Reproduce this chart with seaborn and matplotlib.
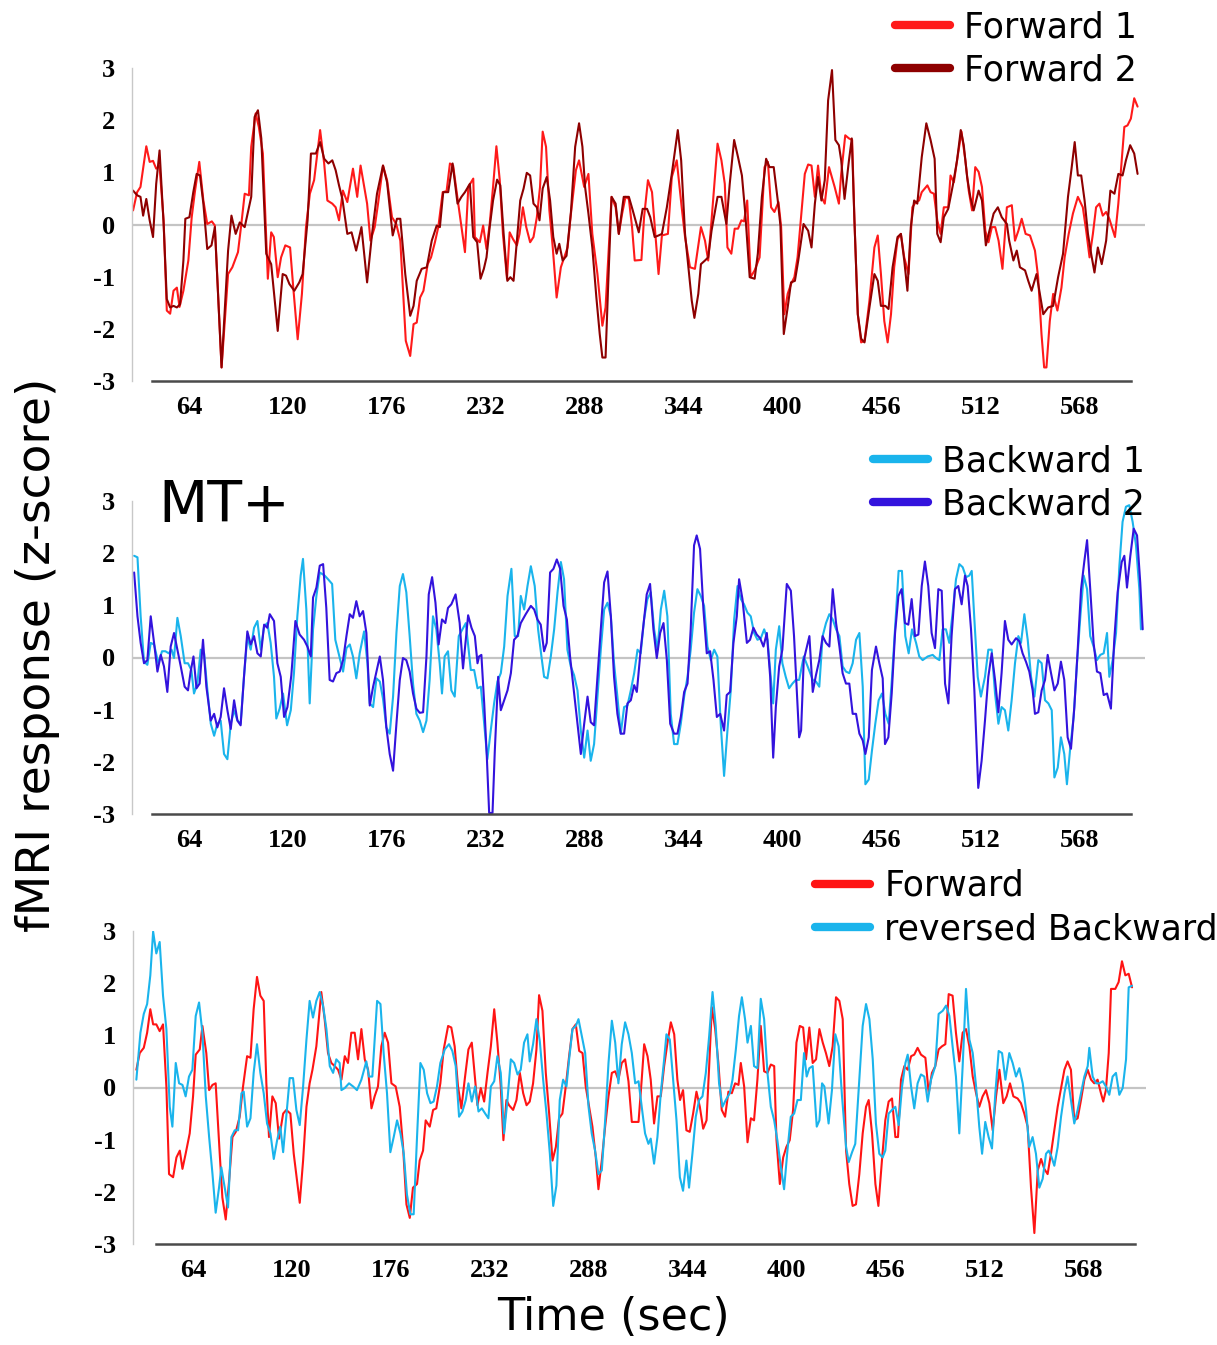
import matplotlib
matplotlib.use("Agg")
import matplotlib.pyplot as plt
import seaborn as sns
import pandas as pd
from matplotlib.lines import Line2D

# ---------------- data (time in sec, response in z-score) ----------------
FWD1 = [(32.3,0.27),(34.6,0.62),(36.5,0.72),(39.8,1.50),(41.7,1.20),(43.6,1.22),(45.4,1.07),(47.3,1.12),(49.6,0.08),(51.4,-1.65),(53.3,-1.71),(55.2,-1.27),(57.1,-1.21),(58.6,-1.58),(60.8,-1.27),(63.6,-0.69),(65.5,0.14),(67.4,0.65),(69.8,1.20),(72.1,0.46),(74.3,0.01),(76.9,0.06),(78.6,-0.02),(82.4,-2.74),(86.1,-0.95),(88.5,-0.82),(91.7,-0.53),(93.6,0.01),(95.5,0.59),(97.9,0.56),(99.2,1.49),(101.7,2.13),(103.5,1.87),(105.8,1.36),(108.6,-1.04),(110.5,-0.15),(112.0,-0.24),(114.2,-1.01),(116.1,-0.63),(118.5,-0.40),(121.2,-0.44),(123.0,-1.21),(125.5,-2.20),(127.9,-1.33),(130.2,-0.05),(132.4,0.59),(134.8,0.85),(138.2,1.81),(140.5,1.17),(142.3,0.46),(145.1,0.40),(147.0,0.33),(148.9,0.08),(151.1,0.65),(153.6,0.43),(156.8,1.07),(159.2,0.53),(161.1,1.13),(164.8,0.40),(166.7,-0.31),(169.1,-0.05),(171.0,0.40),(173.8,1.13),(176.1,0.85),(178.9,0.14),(181.3,0.01),(183.6,-0.31),(186.7,-2.23),(189.2,-2.52),(191.1,-1.91),(192.9,-1.88),(194.8,-1.40),(196.7,-1.27),(199.1,-0.76),(201.0,-0.63),(203.2,-0.34),(205.1,-0.05),(207.6,0.62),(209.8,0.64),(211.7,1.17),(213.5,1.13),(216.4,0.40),(220.2,-0.53),(222.1,0.72),(224.9,0.88),(225.8,-0.24),(228.6,-0.34),(230.5,-0.02),(232.4,-0.47),(234.2,0.01),(236.1,0.72),(238.0,1.50),(239.9,0.85),(241.7,-0.18),(244.0,-1.04),(245.5,-0.15),(247.4,-0.28),(249.6,-0.40),(251.1,-0.18),(253.0,0.33),(254.9,-0.05),(257.1,-0.34),(259.0,-0.24),(260.9,0.14),(262.7,0.72),(264.2,1.78),(266.1,1.49),(268.0,0.27),(269.9,-0.44),(272.1,-1.40),(274.5,-0.82),(276.4,-0.63),(278.3,-0.44),(280.2,0.21),(283.0,1.04),(284.8,1.23),(287.7,0.72),(290.1,0.97),(292.3,-0.18),(295.2,-0.95),(298.0,-1.94),(299.8,-1.59),(303.2,0.53),(305.5,0.33),(307.3,-0.18),(309.2,0.21),(311.1,0.53),(313.0,0.49),(314.8,-0.05),(316.3,-0.69),(320.1,-0.68),(321.6,0.14),(323.8,0.85),(326.1,0.62),(328.0,-0.18),(329.8,-0.95),(331.7,-0.21),(335.1,-0.18),(337.3,0.91),(340.1,1.23),(342.9,0.33),(344.8,-0.24),(347.6,-0.82),(350.4,-0.85),(353.8,-0.05),(356.1,-0.31),(357.9,-0.69),(359.8,0.08),(363.2,1.55),(365.4,1.23),(367.3,0.78),(368.8,-0.44),(371.0,-0.56),(372.9,-0.08),(374.8,-0.08),(376.7,0.08),(378.2,0.06),(380.0,0.46),(381.9,-1.01),(384.2,-0.88),(387.0,-0.63),(389.8,1.10),(391.7,1.20),(393.5,0.33),(395.4,0.24),(397.7,0.43),(399.2,-0.05),(401.0,-1.72),(402.9,-1.33),(404.8,-1.14),(406.7,-1.01),(408.5,-0.63),(412.6,0.97),(414.5,1.15),(416.4,1.13),(418.3,0.53),(420.1,1.13),(422.0,0.53),(423.9,0.40),(426.3,1.10),(429.5,0.72),(431.9,0.40),(433.2,0.97),(435.5,1.71),(437.6,1.65),(439.4,1.62),(440.7,0.08),(442.6,-1.72),(444.5,-2.26),(446.4,-2.23),(449.2,-1.46),(452.0,-0.44),(453.9,-0.21),(455.7,-0.95),(457.6,-1.85),(459.5,-2.26),(461.4,-1.72),(463.2,-0.82),(465.1,-0.28),(467.0,-0.18),(468.9,-0.63),(471.3,-0.95),(473.5,0.33),(475.4,0.43),(477.3,0.46),(478.8,0.62),(482.0,0.75),(483.8,0.62),(485.7,0.59),(487.6,0.08),(489.5,-0.18),(491.3,0.33),(493.8,0.33),(495.1,0.94),(497.0,0.81),(498.8,1.23),(501.3,1.78),(503.5,1.23),(505.4,0.65),(507.3,0.27),(509.1,1.10),(511.0,1.01),(512.9,0.72),(514.8,-0.12),(516.6,-0.34),(518.5,-0.05),(520.4,-0.05),(522.3,-0.31),(524.5,-0.85),(527.0,0.33),(529.8,0.37),(531.6,-0.31),(533.5,-0.12),(535.4,0.11),(537.6,-0.18),(540.1,-0.21),(542.9,-0.50),(544.7,-1.01),(546.6,-2.10),(548.1,-2.74),(549.4,-2.74),(551.3,-1.85),(553.2,-1.33),(555.6,-1.65),(557.9,-1.21),(559.7,-0.63),(562.0,-0.18),(564.4,0.21),(567.2,0.53),(570.0,0.33),(571.9,-0.12),(573.8,-0.63),(575.7,-0.18),(577.5,0.33),(579.4,0.40),(581.3,0.17),(583.2,0.24),(585.0,0.11),(588.2,-0.24),(590.1,0.40),(592.0,1.23),(593.5,1.87),(595.3,1.90),(597.2,2.03),(599.1,2.42),(601.0,2.26)]

FWD2 = [(32.3,0.65),(34.6,0.56),(36.5,0.53),(38.0,0.17),(39.8,0.49),(41.7,0.08),(43.6,-0.24),(45.4,0.78),(47.3,1.42),(49.6,0.01),(51.4,-1.43),(53.3,-1.59),(55.2,-1.56),(57.1,-1.59),(58.9,-1.53),(60.8,-0.69),(61.9,0.11),(64.2,0.14),(66.4,0.62),(68.3,0.97),(70.2,0.94),(72.1,0.40),(74.3,-0.47),(76.7,-0.40),(78.6,-0.05),(82.4,-2.74),(86.1,-0.50),(88.0,0.17),(90.4,-0.18),(92.7,0.04),(95.5,-0.05),(99.2,0.53),(101.1,2.06),(103.0,2.19),(104.9,1.65),(107.7,-0.56),(110.5,-0.76),(114.2,-2.04),(117.0,-0.95),(118.9,-0.98),(120.8,-1.14),(123.6,-1.27),(126.4,-1.11),(128.3,-0.95),(131.1,0.08),(133.0,1.36),(135.8,1.36),(138.2,1.58),(140.5,1.26),(142.9,1.17),(145.1,1.23),(147.0,1.04),(148.9,0.75),(150.8,0.49),(153.6,-0.18),(156.0,-0.15),(158.6,-0.50),(161.6,-0.05),(164.8,-1.11),(167.6,-0.18),(170.4,0.59),(173.8,1.13),(176.1,0.81),(179.3,-0.21),(181.7,0.11),(183.6,0.11),(186.4,-0.95),(189.2,-1.75),(191.1,-1.56),(192.9,-1.08),(195.7,-0.85),(198.6,-0.82),(201.4,-0.31),(204.2,-0.02),(206.0,-0.05),(207.9,0.62),(210.7,0.62),(213.2,1.17),(216.0,0.40),(218.2,0.53),(220.2,0.62),(223.0,0.78),(224.9,-0.24),(227.1,-0.34),(229.0,-1.04),(230.9,-0.85),(232.4,-0.63),(234.2,-0.05),(236.1,0.46),(238.4,0.86),(240.2,0.75),(242.1,-0.18),(244.2,-1.08),(245.9,-1.01),(247.7,-1.08),(249.6,-0.31),(251.5,0.46),(253.4,0.69),(255.2,0.99),(257.1,0.94),(259.0,0.40),(260.9,0.33),(262.4,0.08),(264.2,0.69),(266.5,0.91),(268.4,0.46),(270.2,-0.24),(272.1,-0.56),(273.6,-0.37),(275.5,-0.69),(277.7,-0.60),(280.2,0.24),(282.6,1.49),(284.8,1.94),(286.7,1.49),(288.2,0.72),(290.1,0.21),(292.3,-0.44),(294.6,-1.40),(296.5,-2.10),(298.0,-2.55),(299.8,-2.55),(301.3,-1.14),(303.2,0.53),(305.5,0.40),(307.3,-0.18),(310.1,0.53),(313.0,0.53),(315.2,0.27),(318.6,-0.15),(320.8,0.30),(323.3,0.30),(325.1,0.14),(327.6,-0.24),(329.8,-0.21),(331.7,-0.18),(334.5,0.33),(337.3,0.97),(340.7,1.81),(342.6,1.23),(344.8,-0.18),(346.7,-0.82),(348.6,-1.46),(350.1,-1.79),(352.3,-1.33),(353.8,-0.76),(356.1,-0.69),(357.9,-0.63),(359.8,-0.12),(363.2,0.53),(365.4,0.53),(368.2,0.01),(370.1,0.78),(372.6,1.62),(374.8,1.29),(377.0,0.94),(378.9,0.21),(381.4,-1.01),(384.2,-1.04),(386.0,-0.56),(388.3,0.53),(390.7,1.26),(392.6,1.10),(395.0,1.10),(397.3,0.46),(398.8,-0.02),(400.7,-2.10),(402.9,-1.59),(404.8,-1.11),(407.0,-1.08),(408.9,-0.69),(411.9,0.01),(414.5,-0.12),(416.4,-0.44),(418.3,0.40),(420.1,0.91),(422.0,0.46),(423.9,0.85),(425.8,2.38),(428.0,2.96),(429.9,1.62),(431.9,1.52),(433.2,1.23),(435.1,0.49),(437.6,1.23),(439.2,1.65),(440.7,0.08),(442.6,-1.72),(444.5,-2.19),(446.4,-2.26),(449.2,-1.59),(452.0,-0.95),(453.9,-1.08),(455.7,-1.56),(458.2,-1.56),(460.0,-1.62),(462.3,-0.82),(465.1,-0.24),(467.0,-0.18),(468.9,-0.69),(470.7,-1.27),(472.6,-0.05),(474.5,0.46),(476.3,0.40),(478.8,1.29),(481.4,1.94),(483.8,1.62),(486.1,1.26),(487.6,-0.18),(489.5,-0.34),(491.3,0.14),(493.8,0.30),(496.4,0.75),(498.8,1.23),(500.9,1.81),(502.6,1.52),(504.5,0.91),(506.3,0.53),(508.2,0.27),(511.0,0.65),(512.9,0.46),(515.1,-0.40),(517.6,-0.05),(519.5,0.21),(521.9,0.33),(524.1,0.14),(527.0,0.01),(528.3,-0.31),(530.7,-0.69),(532.6,-0.50),(534.4,-0.82),(537.3,-0.88),(539.1,-1.08),(541.0,-1.27),(543.8,-0.95),(545.7,-1.33),(547.6,-1.72),(550.4,-1.59),(553.2,-1.56),(556.0,-1.01),(558.8,-0.56),(561.6,0.53),(563.5,1.04),(565.4,1.58),(567.2,0.94),(569.1,0.94),(571.0,0.46),(572.9,-0.18),(574.7,-0.56),(576.6,-0.92),(578.5,-0.44),(580.7,-0.76),(583.2,-0.31),(585.6,0.65),(587.9,0.59),(590.1,0.97),(592.5,0.94),(594.4,1.23),(596.8,1.52),(599.1,1.36),(601.0,0.97)]

BWD1 = [(32.9,1.95),(34.8,1.92),(36.6,0.79),(38.5,-0.08),(40.4,-0.14),(42.3,0.28),(44.2,0.25),(46.6,-0.11),(48.7,0.12),(50.6,0.12),(52.5,0.08),(54.1,0.15),(55.5,-0.01),(57.4,0.76),(59.3,0.41),(61.5,-0.11),(63.4,-0.11),(65.3,-0.24),(66.8,-0.69),(68.7,-0.50),(70.6,0.15),(72.5,0.08),(74.4,-0.63),(76.3,-1.27),(78.2,-1.50),(80.0,-1.27),(81.9,-1.21),(83.8,-1.85),(85.7,-1.95),(87.6,-1.27),(89.5,-1.01),(91.4,-1.21),(93.2,-1.27),(95.1,-0.37),(97.0,0.41),(98.9,0.15),(100.8,0.57),(102.7,0.70),(104.6,0.15),(106.5,0.60),(108.3,0.66),(110.2,0.28),(112.1,-0.37),(113.4,-1.17),(115.3,-0.98),(117.2,-0.69),(119.5,-1.30),(121.6,-1.01),(123.4,-0.30),(125.3,0.79),(127.2,1.57),(128.5,1.89),(130.4,0.92),(132.3,-0.88),(134.2,0.54),(136.1,1.18),(138.0,1.63),(140.8,1.57),(142.7,1.50),(145.0,1.41),(146.8,0.34),(148.7,0.08),(151.2,-0.27),(153.1,0.18),(155.0,0.25),(156.8,0.02),(158.7,-0.40),(160.6,0.08),(163.1,0.50),(165.0,-0.11),(166.3,-0.88),(168.2,-0.95),(170.1,-0.40),(172.0,-0.46),(173.8,-0.79),(175.7,-1.34),(177.6,-1.46),(179.5,-0.75),(181.4,0.47),(183.3,1.37),(185.1,1.60),(187.0,1.25),(188.9,0.41),(190.8,-0.50),(192.7,-1.08),(194.6,-1.21),(196.5,-1.43),(198.4,-1.21),(200.2,-0.43),(202.1,0.79),(204.0,0.54),(205.9,-0.11),(207.2,-0.69),(208.7,0.02),(210.6,0.12),(212.5,-0.63),(214.4,-0.75),(216.7,0.41),(220.7,0.66),(223.5,-0.24),(225.4,-0.24),(227.3,-0.59),(229.2,-0.56),(231.1,-1.27),(232.9,-1.95),(234.8,-1.40),(236.7,-0.88),(238.6,-0.46),(240.5,-0.30),(242.4,0.21),(244.3,1.18),(246.5,1.70),(248.4,0.41),(250.3,0.41),(251.8,1.18),(253.7,0.92),(255.6,1.37),(257.5,1.75),(259.7,1.37),(261.6,0.54),(263.5,0.02),(265.0,-0.37),(266.9,-0.40),(268.8,0.02),(270.7,0.54),(272.6,1.25),(274.5,1.83),(276.3,1.50),(278.2,0.15),(280.1,-0.17),(282.0,-0.34),(283.9,-0.63),(285.8,-1.40),(287.7,-1.92),(289.6,-1.40),(291.4,-1.98),(293.3,-1.66),(295.2,-0.75),(297.1,0.15),(299.0,0.92),(300.9,1.05),(302.8,0.79),(304.6,-0.11),(306.5,-0.75),(308.4,-1.46),(310.3,-0.95),(312.2,-0.92),(314.1,-0.63),(316.0,-0.30),(317.9,0.15),(319.7,0.08),(321.6,0.73),(323.5,1.12),(325.4,1.25),(327.3,0.54),(329.2,0.15),(331.1,0.92),(333.0,1.28),(334.8,0.79),(336.7,-1.08),(338.6,-1.66),(340.5,-1.66),(342.4,-1.27),(344.3,-0.75),(346.2,-0.37),(348.0,0.15),(349.9,0.86),(351.8,1.31),(353.7,1.18),(355.6,0.99),(357.5,0.21),(359.4,-0.05),(361.3,0.15),(363.1,0.02),(365.0,-1.27),(366.9,-2.27),(368.8,-1.40),(370.7,-0.63),(372.6,0.73),(374.5,1.37),(376.4,1.12),(378.2,1.02),(380.1,0.86),(382.0,0.79),(383.9,0.47),(385.8,0.34),(387.7,0.37),(389.6,0.54),(391.5,0.34),(393.3,-0.37),(394.7,-0.88),(396.2,0.15),(398.1,0.60),(399.9,-0.11),(401.8,-0.37),(403.7,-0.59),(405.6,-0.50),(407.5,-0.43),(409.4,-0.43),(412.0,0.02),(414.2,-0.17),(417.1,-0.43),(418.9,-0.46),(420.8,-0.56),(422.7,0.41),(424.6,0.66),(426.5,0.83),(428.4,0.73),(430.3,0.54),(432.2,0.41),(434.0,-0.17),(435.9,-0.27),(437.8,-0.30),(439.7,-0.11),(441.6,0.34),(443.5,0.47),(445.4,-0.56),(446.9,-2.43),(448.8,-2.34),(450.6,-1.79),(452.5,-1.27),(454.4,-0.82),(456.3,-0.69),(458.2,-1.08),(460.1,-1.27),(462.0,-0.37),(463.9,0.66),(465.7,1.66),(467.6,1.66),(469.5,0.41),(471.4,0.08),(473.3,0.54),(475.6,0.28),(477.4,0.02),(479.3,-0.05),(482.2,0.02),(485.0,0.05),(486.9,-0.01),(488.8,-0.05),(490.6,0.54),(492.5,0.54),(494.4,0.28),(496.3,0.86),(498.2,1.50),(500.1,1.79),(502.0,1.73),(503.9,1.54),(505.7,1.57),(507.1,1.66),(508.6,0.73),(510.5,-0.37),(512.3,-0.75),(514.6,-0.37),(516.5,0.15),(518.4,0.15),(520.3,-0.69),(522.2,-1.27),(524.0,-0.95),(525.9,-1.01),(527.8,-1.40),(529.7,-0.82),(531.6,-0.11),(533.5,0.41),(535.0,0.28),(536.9,0.83),(538.8,0.34),(540.7,-0.37),(542.6,-0.75),(544.8,-0.05),(546.7,-0.11),(548.6,-0.82),(550.5,-0.88),(552.4,-1.01),(553.9,-2.30),(555.8,-2.11),(557.6,-1.53),(559.5,-1.85),(561.0,-2.43),(562.9,-1.72),(564.8,-1.14),(566.7,-0.11),(568.6,0.79),(570.5,1.57),(572.4,1.31),(574.2,0.41),(576.1,0.21),(578.0,-0.05),(579.9,0.05),(581.8,0.08),(583.7,0.47),(585.0,-0.37),(586.9,-0.05),(588.8,0.47),(590.7,1.76),(592.5,2.60),(594.4,2.89),(596.3,2.92),(598.2,2.60),(600.1,2.15),(602.0,1.31),(602.9,0.54)]

BWD2 = [(32.9,1.63),(34.8,0.79),(36.6,0.28),(38.5,-0.11),(40.4,-0.05),(42.3,0.79),(44.2,0.28),(46.1,-0.27),(48.0,0.05),(49.8,-0.17),(51.7,-0.66),(53.6,0.21),(55.5,0.47),(57.4,0.15),(59.3,-0.17),(61.5,-0.56),(63.4,-0.63),(64.9,-0.27),(66.5,0.02),(68.2,-0.59),(70.0,-0.50),(71.9,0.34),(73.8,-0.56),(76.3,-1.21),(78.2,-1.08),(80.0,-1.34),(81.9,-1.14),(83.8,-0.59),(85.7,-1.01),(87.6,-1.37),(89.5,-0.82),(91.4,-1.21),(93.2,-1.30),(95.1,-0.37),(97.0,0.50),(98.9,0.25),(100.8,0.41),(102.7,0.08),(104.6,0.02),(106.5,0.63),(108.3,0.57),(109.7,0.83),(112.1,0.70),(114.0,-0.11),(115.9,-0.37),(117.8,-1.14),(119.7,-0.95),(121.9,-0.34),(124.2,0.70),(126.6,0.44),(129.1,0.34),(131.0,0.21),(132.9,0.02),(134.2,1.15),(136.1,1.34),(138.0,1.76),(139.9,1.79),(141.7,0.95),(143.6,-0.43),(145.5,-0.46),(147.4,-0.30),(149.3,-0.27),(151.2,-0.05),(153.1,0.41),(155.0,0.83),(156.8,0.76),(158.7,1.08),(160.6,0.79),(162.5,0.89),(164.4,0.47),(166.3,-0.92),(168.2,-0.56),(170.1,-0.27),(172.0,0.02),(173.8,-0.43),(175.7,-1.34),(177.6,-1.85),(179.5,-2.17),(181.4,-1.27),(183.3,-0.43),(185.1,-0.01),(187.0,-0.05),(188.9,-0.27),(190.8,-0.69),(192.7,-0.98),(194.6,-1.06),(196.5,-1.05),(198.4,0.02),(199.7,1.21),(201.6,1.54),(203.5,1.05),(205.3,0.25),(207.2,0.73),(209.1,0.66),(210.6,0.95),(212.5,1.02),(214.9,1.21),(217.2,0.66),(219.1,-0.21),(222.0,0.81),(223.9,0.57),(225.8,0.41),(227.3,-0.11),(228.2,0.02),(229.5,0.05),(231.1,-0.88),(232.6,-1.92),(233.9,-2.98),(235.8,-2.98),(237.1,-1.79),(239.0,-0.37),(240.5,-1.01),(242.4,-0.82),(244.3,-0.63),(246.2,-0.30),(248.0,0.34),(249.9,0.41),(251.8,0.66),(254.6,0.83),(257.5,0.99),(259.4,0.92),(261.2,0.73),(263.1,0.63),(265.0,0.12),(266.5,0.28),(268.4,1.63),(270.3,1.70),(272.2,1.88),(274.1,1.70),(276.0,0.99),(277.9,0.73),(279.7,0.02),(282.0,-0.69),(283.9,-1.27),(285.8,-1.85),(287.7,-1.27),(289.6,-0.75),(291.4,-1.24),(293.3,-1.30),(295.2,-0.37),(297.1,0.54),(299.0,1.44),(300.9,1.65),(302.8,0.79),(304.6,-0.37),(306.5,-1.08),(308.4,-1.46),(310.3,-1.46),(312.2,-0.88),(314.1,-0.82),(316.0,-0.53),(317.5,-0.66),(319.7,0.15),(321.6,0.73),(323.1,1.21),(325.0,1.41),(326.9,0.54),(328.8,-0.01),(330.7,0.47),(332.6,0.66),(334.5,-0.05),(336.4,-1.27),(338.6,-1.46),(340.5,-1.46),(342.4,-1.14),(344.3,-0.66),(346.2,-0.50),(348.0,0.54),(349.9,2.15),(351.4,2.34),(353.3,2.08),(355.2,0.92),(357.1,0.08),(359.0,0.12),(360.9,-0.43),(362.8,-1.14),(364.7,-1.08),(366.9,-1.40),(368.4,-0.72),(370.3,-0.66),(372.2,0.28),(374.1,0.79),(375.4,1.50),(377.3,1.12),(379.8,0.28),(381.6,0.34),(383.5,0.57),(385.4,0.44),(387.3,0.37),(389.2,0.21),(391.1,0.47),(393.0,-0.37),(394.7,-1.92),(396.2,-0.95),(398.1,-0.17),(399.9,0.15),(402.4,1.41),(404.7,1.28),(406.5,0.41),(409.4,-1.53),(410.5,-1.40),(412.0,-0.05),(413.8,0.21),(415.2,0.41),(417.1,-0.66),(418.9,-0.34),(420.8,-0.05),(422.7,0.41),(424.6,0.28),(426.5,0.21),(428.4,1.31),(430.3,0.66),(432.2,0.21),(434.0,-0.30),(435.9,-0.50),(437.8,-0.50),(439.7,-1.08),(441.6,-1.08),(443.5,-1.46),(445.4,-1.59),(446.9,-1.85),(448.8,-1.53),(450.6,-0.24),(452.9,0.21),(454.8,-0.11),(456.7,-0.40),(458.0,-1.66),(459.9,-1.53),(461.8,-0.69),(463.7,0.47),(465.6,1.18),(467.4,1.31),(469.3,0.66),(471.2,0.63),(473.1,1.12),(475.0,0.41),(476.9,0.44),(478.8,1.37),(480.6,1.84),(482.5,1.37),(484.4,0.47),(486.3,0.18),(488.2,1.31),(490.1,1.28),(492.0,-0.50),(493.9,-0.88),(495.7,0.41),(497.6,1.31),(499.5,1.37),(501.4,1.02),(503.3,1.57),(504.8,1.37),(506.7,0.54),(508.6,-0.63),(510.8,-2.50),(512.7,-1.98),(514.6,-1.21),(516.5,-0.37),(518.4,0.08),(520.3,-0.43),(522.2,-1.05),(524.0,-0.30),(525.9,0.70),(527.8,0.34),(529.7,0.25),(532.2,0.37),(534.1,0.31),(535.9,0.08),(537.8,-0.08),(539.7,-0.27),(541.6,-0.63),(542.9,-1.08),(544.8,-1.05),(546.7,-0.63),(548.6,-0.43),(550.1,0.05),(552.0,-0.30),(553.9,-0.63),(555.8,-0.50),(557.6,-0.08),(559.5,-0.43),(561.4,-1.53),(563.3,-1.75),(565.2,-0.95),(567.1,0.15),(569.0,1.31),(570.8,1.83),(572.4,2.25),(574.2,1.31),(576.1,0.28),(578.0,-0.27),(579.9,-0.30),(581.8,-0.72),(583.7,-0.69),(585.9,-0.98),(587.8,0.34),(589.7,1.25),(592.0,1.83),(593.5,1.95),(595.0,1.34),(596.9,1.95),(598.8,2.47),(600.7,2.34),(602.5,1.44),(603.9,0.54)]

FWD = [(31.9,0.34),(33.8,0.66),(36.1,0.76),(38.0,1.05),(39.8,1.50),(41.4,1.21),(43.2,1.21),(45.1,1.08),(47.0,1.21),(48.9,0.02),(50.4,-1.66),(52.7,-1.72),(54.6,-1.34),(56.5,-1.21),(58.0,-1.56),(59.8,-1.27),(62.1,-0.88),(64.0,-0.17),(65.5,0.63),(67.8,0.73),(69.3,1.18),(71.5,0.66),(73.1,-0.05),(75.0,0.05),(76.8,0.08),(79.1,-1.27),(80.6,-2.11),(82.5,-2.53),(84.4,-1.79),(86.3,-0.95),(88.2,-0.85),(90.4,-0.56),(92.3,0.02),(94.6,0.60),(96.5,0.57),(98.3,1.50),(100.2,2.12),(102.1,1.76),(104.0,1.66),(105.5,0.08),(107.0,-0.95),(108.9,-0.17),(110.8,-0.30),(112.7,-0.98),(115.0,-0.50),(116.8,-0.43),(119.1,-0.50),(121.0,-1.27),(124.4,-2.21),(126.3,-1.40),(128.2,-0.37),(130.0,0.08),(131.6,0.34),(133.8,0.79),(136.6,1.83),(138.5,1.31),(140.4,0.66),(142.3,0.47),(144.2,0.41),(146.1,0.34),(148.0,0.15),(149.9,0.60),(151.7,0.47),(153.6,1.05),(155.5,1.05),(157.4,0.54),(159.3,1.12),(161.2,0.54),(163.1,0.34),(165.0,-0.40),(166.8,-0.17),(168.7,0.02),(170.6,0.79),(172.5,1.05),(174.4,0.86),(176.3,0.08),(178.7,0.02),(181.0,-0.37),(182.9,-1.14),(184.8,-2.24),(186.7,-2.50),(188.5,-1.92),(190.8,-1.85),(192.3,-1.40),(194.2,-1.21),(195.7,-0.63),(198.0,-0.75),(199.9,-0.43),(201.7,-0.40),(204.0,0.08),(205.9,0.73),(208.4,1.18),(210.2,1.15),(212.1,0.79),(214.0,0.02),(215.9,-0.40),(218.0,0.21),(219.9,0.73),(221.8,0.86),(223.7,0.15),(225.0,-0.34),(226.9,-0.01),(228.8,-0.27),(230.7,0.28),(232.6,0.79),(234.5,1.50),(236.3,0.86),(238.2,0.02),(239.7,-1.01),(241.4,-0.24),(242.9,-0.34),(245.2,-0.43),(247.1,-0.24),(249.0,0.28),(250.9,-0.11),(252.8,-0.34),(254.6,-0.27),(256.5,0.08),(258.4,0.73),(259.9,1.77),(261.8,1.47),(263.7,0.28),(265.6,-0.50),(267.5,-1.40),(269.4,-1.14),(271.2,-0.59),(273.1,-0.50),(275.0,0.02),(276.9,0.60),(278.8,1.12),(280.7,1.21),(282.6,0.70),(284.5,0.66),(286.3,0.02),(288.2,-0.37),(290.1,-0.75),(292.0,-1.34),(293.5,-1.95),(295.4,-1.40),(297.3,-0.75),(299.2,-0.17),(301.1,0.28),(303.0,0.31),(304.8,0.15),(306.7,0.47),(308.6,0.54),(310.5,0.12),(312.4,-0.66),(314.3,-0.66),(316.2,-0.66),(318.0,0.15),(319.4,0.83),(321.3,0.60),(323.1,0.15),(325.0,-0.69),(326.9,-0.17),(328.8,-0.17),(330.7,0.41),(332.6,0.86),(334.5,1.25),(336.4,1.02),(338.2,0.15),(339.7,-0.24),(341.4,-0.05),(343.3,-0.82),(345.2,-0.85),(347.1,-0.50),(349.0,-0.08),(350.9,-0.37),(352.8,-0.79),(354.7,-0.63),(356.2,0.41),(357.7,1.54),(359.6,1.12),(361.4,0.47),(363.3,-0.43),(365.2,-0.56),(367.1,-0.08),(369.0,-0.11),(370.9,0.08),(372.8,0.05),(374.1,0.47),(376.0,0.02),(377.9,-1.05),(379.8,-0.59),(381.6,-0.63),(383.5,0.15),(385.4,1.18),(387.3,0.31),(389.2,0.28),(391.1,0.44),(393.0,0.41),(394.3,-1.01),(396.2,-1.85),(398.1,-1.34),(399.9,-1.14),(401.8,-1.01),(403.7,-0.43),(405.6,0.86),(407.5,1.18),(409.4,1.15),(411.0,0.54),(412.9,1.15),(414.8,0.47),(416.7,0.54),(418.6,1.12),(420.5,0.86),(422.3,0.66),(424.2,0.41),(426.1,0.79),(428.0,1.73),(429.9,1.66),(431.8,1.31),(433.7,-1.21),(435.5,-1.85),(437.4,-2.27),(439.3,-2.24),(441.2,-1.66),(443.1,-0.88),(445.0,-0.37),(446.5,-0.24),(448.4,-0.88),(450.3,-1.85),(452.0,-2.27),(454.0,-1.40),(455.9,-0.63),(457.8,-0.27),(459.7,-0.21),(461.6,-0.95),(463.1,-0.95),(464.8,0.15),(466.7,0.41),(468.6,0.34),(470.5,0.60),(472.3,0.63),(474.2,0.76),(476.1,0.63),(478.6,0.57),(480.5,-0.11),(482.3,0.28),(484.2,0.41),(486.1,0.73),(488.0,0.79),(489.9,0.83),(491.8,1.79),(494.0,1.76),(495.9,1.05),(497.8,0.50),(499.7,1.05),(501.6,1.12),(503.5,0.79),(505.4,0.21),(507.3,-0.11),(509.1,-0.37),(511.0,-0.17),(512.9,-0.05),(514.8,-0.30),(516.7,-0.82),(518.6,-0.17),(520.5,0.34),(522.7,-0.30),(524.6,-0.17),(526.5,0.08),(528.4,-0.17),(530.8,-0.21),(532.7,-0.30),(534.6,-0.50),(536.5,-0.75),(538.4,-1.92),(540.3,-2.79),(542.2,-1.59),(544.1,-1.37),(545.9,-1.56),(547.8,-1.66),(549.7,-1.27),(551.6,-0.82),(553.5,-0.37),(555.4,-0.01),(557.3,0.34),(559.1,0.50),(561.0,0.34),(562.9,-0.63),(564.8,-0.59),(566.7,-0.24),(568.6,0.15),(570.5,0.34),(572.4,0.15),(574.2,0.08),(576.1,0.15),(578.0,-0.11),(579.3,-0.27),(580.8,-0.05),(582.4,0.66),(583.7,1.89),(586.1,1.89),(588.0,2.02),(589.9,2.42),(591.8,2.15),(593.7,2.18),(595.6,1.92)]

REV_BWD = [(31.9,0.15),(34.2,1.05),(36.1,1.41),(38.0,1.60),(39.8,2.15),(41.4,2.99),(43.2,2.57),(45.1,2.79),(47.0,1.76),(48.9,1.12),(50.8,-0.37),(52.3,-0.75),(54.2,0.47),(56.1,0.08),(58.0,0.05),(59.8,-0.17),(61.7,0.21),(63.6,0.34),(65.5,1.37),(67.4,1.63),(69.3,1.05),(71.2,-0.17),(73.1,-0.95),(75.0,-1.66),(76.8,-2.40),(78.7,-1.92),(80.0,-1.53),(81.9,-1.92),(83.8,-2.30),(85.7,-0.95),(87.6,-0.82),(89.5,-0.82),(91.4,-0.11),(92.7,-0.08),(94.6,-0.75),(96.5,-0.59),(98.3,0.28),(100.2,0.83),(102.1,0.28),(104.0,-0.11),(105.9,-0.69),(107.8,-0.88),(109.7,-1.37),(111.6,-1.01),(113.4,-0.75),(115.0,-1.24),(116.8,-0.56),(118.7,0.18),(120.6,0.18),(122.5,-0.43),(124.4,-0.72),(126.3,0.02),(128.2,0.92),(130.0,1.66),(131.9,1.34),(133.8,1.66),(135.7,1.83),(137.6,1.57),(139.5,1.12),(141.4,0.41),(143.3,0.28),(145.1,0.54),(147.0,0.47),(148.0,-0.05),(149.9,-0.01),(152.3,0.08),(154.6,0.02),(156.8,-0.05),(159.3,0.15),(162.1,0.50),(163.6,0.21),(165.5,0.21),(168.2,1.66),(170.1,1.60),(171.9,0.66),(173.8,-0.11),(175.7,-1.24),(177.6,-0.95),(179.5,-0.63),(181.4,-0.88),(183.3,-1.27),(185.1,-2.05),(187.0,-2.43),(188.9,-2.43),(190.8,-0.95),(192.7,0.47),(194.6,0.34),(196.5,-0.11),(198.4,-0.30),(200.2,-0.27),(202.1,0.02),(204.0,0.47),(206.5,0.73),(208.9,0.83),(210.8,0.70),(212.7,0.41),(214.6,-0.56),(216.5,-0.46),(218.4,-0.24),(219.9,0.08),(221.8,-0.27),(223.7,0.02),(225.6,-0.46),(227.5,-0.40),(229.4,-0.50),(231.2,-0.59),(232.6,0.02),(234.5,0.12),(236.3,0.60),(238.2,0.28),(240.1,-0.88),(242.0,-0.24),(243.9,0.54),(245.8,0.47),(247.7,0.25),(249.5,0.34),(251.4,0.86),(253.3,1.02),(254.6,0.50),(256.5,0.83),(258.4,1.31),(260.3,0.89),(262.2,0.15),(264.1,-0.50),(266.0,-1.27),(267.9,-2.27),(269.7,-1.88),(271.6,-0.24),(273.5,0.15),(275.4,0.02),(276.9,0.54),(278.8,1.12),(280.7,1.18),(282.2,1.31),(284.1,0.99),(286.0,0.66),(287.9,-0.37),(289.7,-0.88),(291.6,-1.21),(293.5,-1.66),(295.4,-1.59),(297.3,-0.63),(299.2,0.47),(301.1,1.28),(303.0,0.86),(304.8,0.08),(306.7,0.83),(308.6,1.25),(310.5,1.02),(312.4,0.66),(314.3,0.08),(316.2,0.12),(318.0,-0.37),(319.9,-0.88),(321.8,-1.08),(323.1,-0.98),(325.0,-1.46),(326.9,-0.95),(328.8,-0.11),(330.7,0.54),(332.0,1.02),(333.9,0.92),(335.8,0.15),(337.7,-0.63),(339.6,-1.72),(341.4,-1.98),(343.3,-1.40),(344.8,-1.92),(346.7,-1.27),(348.6,-0.56),(350.5,-0.24),(352.4,-0.17),(354.3,0.28),(356.2,0.99),(358.1,1.83),(359.9,1.18),(361.8,0.08),(363.7,-0.37),(365.6,-0.24),(367.9,-0.11),(369.4,0.15),(371.3,0.73),(373.1,1.37),(374.7,1.73),(376.5,1.31),(377.9,0.86),(379.8,1.18),(381.6,0.41),(383.5,0.37),(385.4,1.70),(387.3,1.31),(389.2,0.28),(391.1,-0.37),(393.0,-0.63),(394.8,-1.01),(396.7,-1.50),(398.6,-1.95),(400.5,-1.21),(402.4,-0.56),(404.3,-0.50),(406.2,-0.24),(408.1,-0.24),(409.9,0.66),(411.4,0.21),(412.9,0.37),(414.8,0.41),(417.1,-0.75),(418.6,-0.63),(420.1,0.08),(421.4,0.02),(423.8,-0.69),(425.7,-0.05),(427.6,1.02),(429.5,0.79),(431.4,-0.17),(433.7,-1.14),(435.2,-1.43),(437.1,-1.24),(438.9,-1.08),(441.2,0.15),(443.1,1.18),(445.0,1.60),(446.9,1.31),(448.8,0.54),(450.6,-0.69),(452.5,-1.27),(454.4,-1.34),(455.9,-1.21),(457.8,-0.50),(459.7,-0.43),(461.6,-0.37),(463.5,-0.72),(465.4,0.02),(467.3,0.47),(468.6,0.63),(470.5,0.02),(472.3,-0.40),(474.2,0.08),(476.1,0.25),(478.0,0.21),(479.9,-0.27),(481.8,0.15),(484.2,0.41),(486.1,1.41),(488.4,1.47),(490.3,1.57),(492.2,1.37),(494.0,0.79),(495.9,0.21),(497.8,-0.88),(499.7,0.41),(501.6,1.89),(503.5,0.92),(505.4,0.66),(507.3,0.02),(509.1,-0.75),(510.7,-1.27),(512.5,-0.66),(514.4,-0.95),(516.3,-1.17),(518.2,-0.11),(520.1,0.70),(522.0,0.66),(523.9,0.15),(526.1,0.66),(528.0,0.47),(529.9,0.21),(531.8,0.37),(533.7,0.08),(535.6,-0.43),(537.4,-1.14),(539.3,-0.95),(541.2,-1.27),(543.1,-1.92),(545.0,-1.75),(546.9,-1.27),(548.4,-1.21),(549.7,-1.30),(551.6,-1.50),(553.5,-1.14),(555.4,-0.56),(557.3,-0.11),(559.1,0.21),(561.0,-0.24),(562.9,-0.69),(564.8,-0.43),(566.7,-0.11),(568.6,0.21),(570.5,0.41),(571.4,0.76),(573.3,0.21),(575.2,0.08),(577.1,0.08),(579.0,0.12),(580.8,0.02),(582.7,-0.14),(584.6,0.21),(586.5,0.28),(588.4,-0.14),(590.3,-0.01),(592.2,0.54),(593.7,1.92),(595.6,1.95)]

Y_TICKS = [3, 2, 1, 0, -1, -2, -3]
Y_TICK_LABELS = ["3", "2", "1", "0", "-1", "-2", "-3"]
X_MAJOR = [64, 120, 176, 232, 288, 344, 400, 456, 512, 568]
X_MINOR = [92, 148, 204, 260, 316, 372, 428, 484, 540, 596]

PANELS = [
    {"series": [("Forward 1", FWD1, "#ff1a1a"), ("Forward 2", FWD2, "#8e0000")]},
    {"series": [("Backward 1", BWD1, "#1ab4ec"), ("Backward 2", BWD2, "#3313dd")]},
    {"series": [("Forward", FWD, "#ff1414"), ("reversed Backward", REV_BWD, "#1ab4ec")]},
]

# ---------------- figure ----------------
sns.set_style("white")
plt.rcParams["font.family"] = ["DejaVu Sans"]
plt.rcParams["text.color"] = "black"

W, H = 1217, 1345
fig = plt.figure(figsize=(W / 100, H / 100), dpi=100)

# axes boxes in pixel terms (left, top, right, bottom), x-limits
boxes = [((132, 68, 1145, 381), (31.7, 605.2)),
         ((132, 501, 1145, 814), (31.7, 605.2)),
         ((133, 931, 1146, 1244), (30.0, 603.5))]
legend_anchor = [(895, 10), (873, 444), (815, 869)]

tick_font = dict(family="Liberation Serif", weight="bold", size=19)

for panel, (box, xl), anc in zip(PANELS, boxes, legend_anchor):
    l, t, r, b = box
    ax = fig.add_axes([l / W, 1 - b / H, (r - l) / W, (b - t) / H])
    ax.axhline(0, color="#c4c4c4", lw=1.6, zorder=0)

    frames = []
    for name, pts, col in panel["series"]:
        d = pd.DataFrame(pts, columns=["t", "v"])
        d["series"] = name
        frames.append(d)
    df = pd.concat(frames, ignore_index=True)
    pal = {name: col for name, _, col in panel["series"]}
    sns.lineplot(data=df, x="t", y="v", hue="series", palette=pal,
                 estimator=None, sort=False, legend=False, lw=1.5, ax=ax)

    ax.set_xlim(*xl)
    ax.set_ylim(-3, 3)
    ax.set_xlabel("")
    ax.set_ylabel("")
    ax.grid(False)
    for s in ["top", "right"]:
        ax.spines[s].set_visible(False)
    ax.spines["left"].set_color("#c8c8c8")
    ax.spines["left"].set_linewidth(1.0)
    ax.spines["bottom"].set_color("#4a4a4a")
    ax.spines["bottom"].set_linewidth(1.8)
    ax.spines["bottom"].set_bounds(43, 597.5)

    ax.set_yticks(Y_TICKS)
    ax.set_yticklabels(Y_TICK_LABELS)
    ax.set_xticks(X_MAJOR)
    ax.set_xticklabels([str(v) for v in X_MAJOR])
    ax.set_xticks(X_MINOR, minor=True)
    ax.tick_params(axis="y", which="both", direction="out", length=3,
                   width=1, color="#c8c8c8", pad=9)
    ax.tick_params(axis="x", which="both", direction="out", length=5,
                   width=1.4, color="#4a4a4a", pad=6)
    for lab in ax.get_xticklabels() + ax.get_yticklabels():
        lab.set_fontfamily(tick_font["family"])
        lab.set_fontweight(tick_font["weight"])
        lab.set_fontsize(tick_font["size"])
        lab.set_color("black")

    handles = [Line2D([], [], color=col, lw=6) for _, _, col in panel["series"]]
    labels = [name for name, _, _ in panel["series"]]
    leg = fig.legend(handles, labels, loc="upper left",
                     bbox_to_anchor=(anc[0] / W, 1 - anc[1] / H),
                     frameon=False, fontsize=25, handlelength=1.58,
                     handletextpad=0.42, labelspacing=0.26, borderpad=0,
                     borderaxespad=0)
    for txt in leg.get_texts():
        txt.set_color("black")

fig.text(158 / W, 1 - 507 / H, "MT+", fontsize=41, ha="left", va="center",
         color="black")
fig.text(38 / W, 1 - 655 / H, "fMRI response (z-score)", fontsize=34,
         rotation=90, ha="center", va="center", color="black")
fig.text(613 / W, 1 - 1317 / H, "Time (sec)", fontsize=32,
         ha="center", va="center", color="black")

fig.savefig("out.png", dpi=100)
